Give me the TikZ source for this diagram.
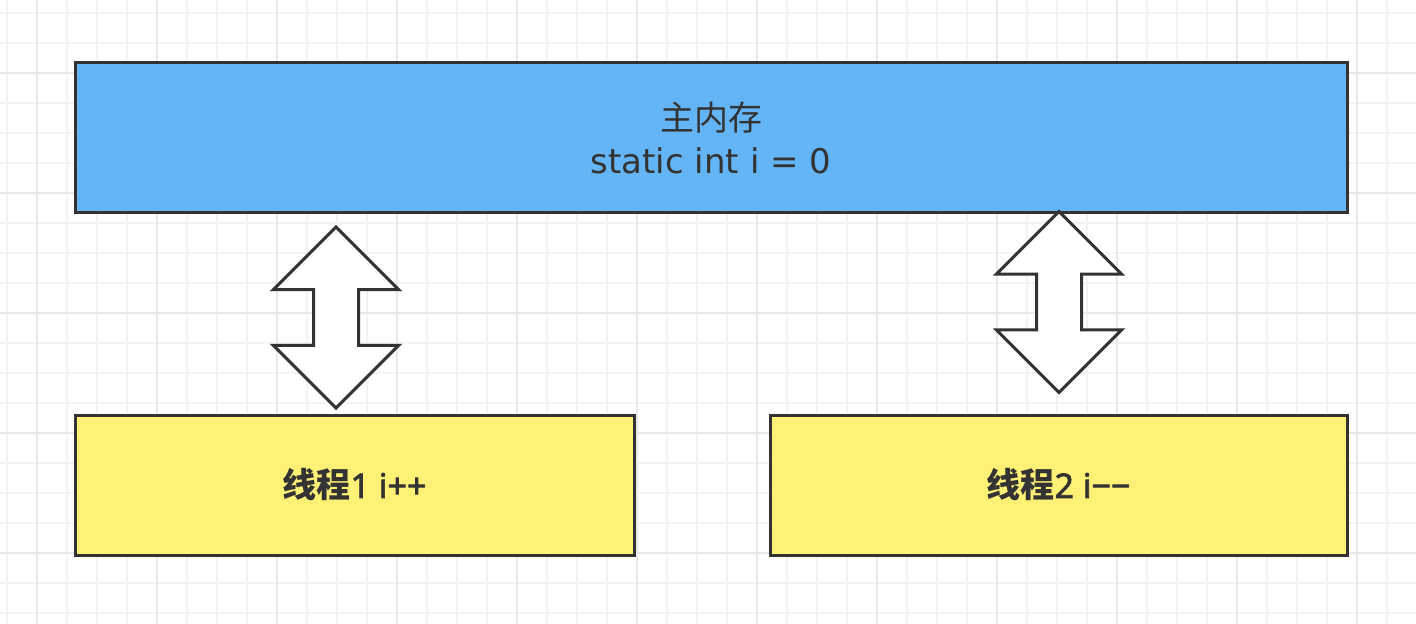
\documentclass[tikz,border=0pt]{standalone}
\usepackage{fontspec}
\setmainfont{DejaVu Sans}
\newfontfamily\cjk{Noto Sans CJK SC}
\newfontfamily\thrfont{Noto Sans}[AutoFakeBold=2]
\usepackage{tikz}
\usetikzlibrary{shapes,arrows.meta,positioning}
\definecolor{memBlue}{HTML}{64B5F6}
\definecolor{thrYellow}{HTML}{FFF176}
\definecolor{inkDark}{HTML}{333333}
\definecolor{gridMinor}{HTML}{F3F3F3}
\definecolor{gridMajor}{HTML}{E8E8E8}
\tikzset{
    cellBox/.style={
        rectangle,
        draw=inkDark,
        line width=1.5pt,
        fill=#1,
        text=inkDark,
        align=center,
        inner sep=0pt
    },
    syncArrow/.style={
        double arrow,
        draw=inkDark,
        line width=1.5pt,
        fill=white,
        rotate=90,
        inner xsep=0pt,
        inner ysep=10.5pt,
        minimum height=90.5pt,
        minimum width=61pt,
        double arrow head extend=20pt
    }
}

\begin{document}
\begin{tikzpicture}[x=0.5pt, y=-0.5pt]
\useasboundingbox (0,0) rectangle (1416,624);
\fill[white] (0,0) rectangle (1416,624);
% background grid
\foreach \x in {7,37,...,1387} \draw[gridMinor, line width=1pt] (\x,0) -- (\x,624);
\foreach \y in {13,43,...,613} \draw[gridMinor, line width=1pt] (0,\y) -- (1416,\y);
\foreach \x in {37,157,...,1357} \draw[gridMajor, line width=1pt] (\x,0) -- (\x,624);
\foreach \y in {73,193,...,553} \draw[gridMajor, line width=1pt] (0,\y) -- (1416,\y);

\node[cellBox=memBlue, minimum width=636pt, minimum height=75pt,
      font=\fontsize{17pt}{21.5pt}\selectfont] (mem) at (711,138) {{\cjk 主内存}\\static int i = 0};
\node[cellBox=thrYellow, minimum width=279.5pt, minimum height=70pt,
      font=\fontsize{17pt}{20pt}\selectfont\thrfont\bfseries] (thread1) at (354.5,485) {{\cjk 线程}1 i++};
\node[cellBox=thrYellow, minimum width=288.5pt, minimum height=70pt,
      font=\fontsize{17pt}{20pt}\selectfont\thrfont\bfseries] (thread2) at (1058.5,485) {{\cjk 线程}2 i−−};

\node[syncArrow] (sync1) at (336,317.5) {};
\node[syncArrow] (sync2) at (1059,302) {};
\end{tikzpicture}
\end{document}
